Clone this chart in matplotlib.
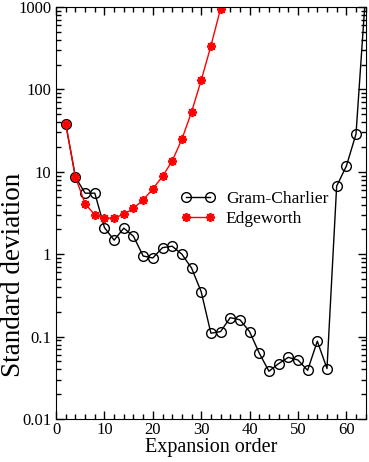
import matplotlib
matplotlib.use('Agg')
import matplotlib.pyplot as plt
import numpy as np

# expansion order
gc_order = [2, 4, 6, 8, 10, 12, 14, 16, 18, 20, 22, 24, 26, 28, 30, 32,
            34, 36, 38, 40, 42, 44, 46, 48, 50, 52, 54, 56, 58, 60, 62, 64]
gc_std = [38, 8.6, 5.5, 5.5, 2.1, 1.48, 2.07, 1.65, 0.95, 0.9, 1.2, 1.25,
          1.0, 0.68, 0.35, 0.11, 0.115, 0.17, 0.16, 0.115, 0.063, 0.038,
          0.047, 0.056, 0.052, 0.039, 0.088, 0.041, 6.7, 11.7, 28.7, 1500]

ew_order = [2, 4, 6, 8, 10, 12, 14, 16, 18, 20, 22, 24, 26, 28, 30, 32, 34]
ew_std = [38, 8.6, 4.1, 3.0, 2.72, 2.76, 3.04, 3.6, 4.57, 6.2, 8.8, 13.5,
          24.8, 53, 129, 336, 950]

plt.rcParams['font.family'] = ['Liberation Serif', 'DejaVu Serif']

fig = plt.figure(figsize=(3.69, 4.62), dpi=100)
ax = fig.add_axes([0.152, 0.093, 0.839, 0.892])

ax.plot(gc_order, gc_std, color='black', lw=1.0, marker='o', ms=7,
        mfc='none', mec='black', mew=1.0, label='Gram-Charlier')
ax.plot(ew_order, ew_std, color='red', lw=1.0, marker=(8, 2, 0), ms=6.5,
        mec='red', mew=1.3, label='Edgeworth')

ax.set_yscale('log')
ax.set_xlim(0, 64)
ax.set_ylim(0.01, 1000)
ax.set_xticks(np.arange(0, 61, 10))
ax.set_xticks(np.arange(0, 65, 2), minor=True)
ax.set_yticks([0.01, 0.1, 1, 10, 100, 1000])
ax.set_yticklabels(['0.01', '0.1', '1', '10', '100', '1000'])
ax.tick_params(which='both', direction='in', top=True, right=True, labelsize=12)
ax.tick_params(which='major', length=6, width=1)
ax.tick_params(which='minor', length=3.5, width=1)
ax.tick_params(axis='x', pad=2)

ax.set_xlabel('Expansion order', fontsize=14.5, labelpad=0)
ax.set_ylabel('Standard deviation', fontsize=19.5)
ax.yaxis.set_label_coords(-0.098, 0.35)

ax.legend(loc='upper left', bbox_to_anchor=(0.38, 0.57), frameon=False,
          fontsize=12.5, numpoints=2, handlelength=2.0, handletextpad=0.6,
          labelspacing=0.2, borderaxespad=0)

fig.savefig('out.png', dpi=100)
